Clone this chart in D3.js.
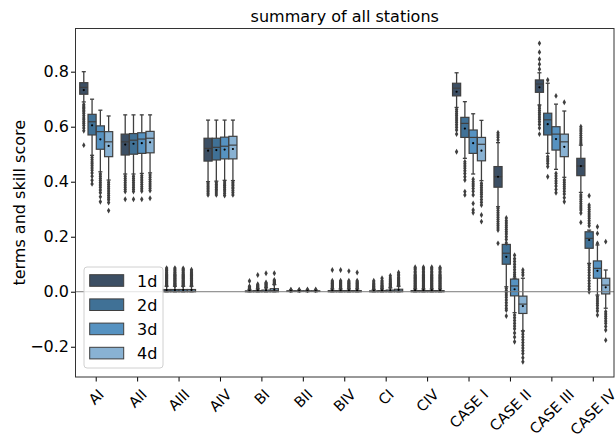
<!DOCTYPE html>
<html>
<head>
<meta charset="utf-8">
<script src="https://cdn.jsdelivr.net/npm/d3@7"></script>
<style>
  body { margin: 0; background: #fff; }
  svg text { font-family: "DejaVu Sans", sans-serif; fill: #000; }
</style>
</head>
<body>
<div class="canvas"></div>
<script>
// categories and hue levels
const categories = ["AI", "AII", "AIII", "AIV", "BI", "BII", "BIV", "CI", "CIV",
  "CASE I", "CASE II", "CASE III", "CASE IV"];
const hues = ["1d", "2d", "3d", "4d"];
const hueColors = ["#3c4f64", "#407196", "#5692c1", "#89b2d3"];
const yTicks = [-0.2, 0, 0.2, 0.4, 0.6, 0.8];

// box statistics, one row per category, one value per hue
const whiskHi = [
  [0.800, 0.700, 0.660, 0.639], [0.643, 0.643, 0.643, 0.643], [0.020, 0.020, 0.020, 0.020],
  [0.624, 0.624, 0.624, 0.624], [0.007, 0.010, 0.014, 0.026], [0.005, 0.005, 0.005, 0.005],
  [0.010, 0.010, 0.010, 0.010], [0.008, 0.010, 0.014, 0.020], [0.010, 0.010, 0.010, 0.010],
  [0.796, 0.691, 0.647, 0.623], [0.542, 0.170, 0.049, 0.049], [0.796, 0.758, 0.682, 0.657],
  [0.533, 0.224, 0.170, 0.079]
];
const q3 = [
  [0.760, 0.645, 0.603, 0.582], [0.573, 0.575, 0.578, 0.583], [0.008, 0.008, 0.008, 0.008],
  [0.558, 0.558, 0.562, 0.565], [0.003, 0.004, 0.006, 0.011], [0.003, 0.003, 0.003, 0.003],
  [0.004, 0.004, 0.004, 0.004], [0.003, 0.004, 0.006, 0.009], [0.004, 0.004, 0.004, 0.004],
  [0.758, 0.634, 0.588, 0.561], [0.455, 0.172, 0.046, -0.016], [0.770, 0.649, 0.600, 0.573],
  [0.485, 0.218, 0.112, 0.049]
];
const medians = [
  [0.743, 0.618, 0.582, 0.545], [0.545, 0.551, 0.555, 0.558], [0.002, 0.002, 0.002, 0.002],
  [0.521, 0.525, 0.529, 0.533], [0.001, 0.001, 0.002, 0.004], [0.002, 0.002, 0.002, 0.002],
  [0.001, 0.001, 0.001, 0.001], [0.001, 0.001, 0.002, 0.003], [0.001, 0.001, 0.001, 0.001],
  [0.740, 0.612, 0.561, 0.536], [0.418, 0.140, 0.021, -0.045], [0.755, 0.625, 0.573, 0.545],
  [0.457, 0.194, 0.085, 0.024]
];
const q1 = [
  [0.718, 0.570, 0.518, 0.491], [0.497, 0.500, 0.503, 0.505], [0, 0, 0, 0],
  [0.475, 0.479, 0.483, 0.483], [0, 0, 0, 0], [0.001, 0.001, 0.001, 0.001],
  [0, 0, 0, 0], [0, 0, 0, 0], [0, 0, 0, 0],
  [0.712, 0.561, 0.503, 0.476], [0.380, 0.100, -0.015, -0.079], [0.725, 0.570, 0.515, 0.491],
  [0.422, 0.158, 0.049, -0.008]
];
const whiskLo = [
  [0.690, 0.496, 0.436, 0.406], [0.428, 0.428, 0.430, 0.432], [0, 0, 0, 0],
  [0.400, 0.402, 0.405, 0.404], [0, 0, 0, 0], [0, 0, 0, 0],
  [0, 0, 0, 0], [0, 0, 0, 0], [0, 0, 0, 0],
  [0.670, 0.485, 0.428, 0.404], [0.309, 0.018, -0.076, -0.142], [0.679, 0.503, 0.445, 0.416],
  [0.361, 0.103, -0.012, -0.060]
];
const means = [
  [0.733, 0.605, 0.554, 0.530], [0.535, 0.538, 0.540, 0.543], [0.006, 0.006, 0.006, 0.006],
  [0.513, 0.515, 0.517, 0.519], [0.003, 0.004, 0.005, 0.008], [0.002, 0.002, 0.002, 0.002],
  [0.004, 0.004, 0.004, 0.004], [0.003, 0.004, 0.005, 0.007], [0.005, 0.005, 0.005, 0.005],
  [0.727, 0.593, 0.540, 0.513], [0.418, 0.127, 0.009, -0.052], [0.743, 0.609, 0.555, 0.527],
  [0.457, 0.188, 0.076, 0.016]
];

// fliers per category / hue
const outliers = [
  [ // AI
    [0.681, 0.675, 0.670, 0.665, 0.660, 0.654, 0.648, 0.640, 0.632, 0.625, 0.618, 0.612, 0.604, 0.595, 0.585, 0.533],
    [0.488, 0.480, 0.472, 0.465, 0.458, 0.450, 0.442, 0.432, 0.420, 0.405, 0.392],
    [0.428, 0.420, 0.412, 0.404, 0.396, 0.388, 0.380, 0.370, 0.360, 0.345, 0.327],
    [0.398, 0.390, 0.382, 0.374, 0.366, 0.358, 0.350, 0.342, 0.334, 0.324, 0.295]
  ],
  [ // AII
    [0.420, 0.412, 0.404, 0.396, 0.388, 0.380, 0.372, 0.364, 0.336],
    [0.420, 0.412, 0.404, 0.396, 0.388, 0.380, 0.372, 0.364, 0.336],
    [0.422, 0.414, 0.406, 0.398, 0.390, 0.382, 0.374, 0.366, 0.336],
    [0.424, 0.416, 0.408, 0.400, 0.392, 0.384, 0.376, 0.368, 0.340]
  ],
  [ // AIII
    [0.022, 0.025, 0.028, 0.031, 0.034, 0.037, 0.040, 0.043, 0.046, 0.049, 0.052, 0.055, 0.058, 0.061, 0.064, 0.068, 0.072, 0.077, 0.082, 0.086],
    [0.022, 0.025, 0.028, 0.031, 0.034, 0.037, 0.040, 0.043, 0.046, 0.049, 0.052, 0.055, 0.058, 0.061, 0.064, 0.068, 0.072, 0.077, 0.082, 0.086],
    [0.022, 0.025, 0.028, 0.031, 0.034, 0.037, 0.040, 0.043, 0.046, 0.049, 0.052, 0.055, 0.058, 0.061, 0.064, 0.068, 0.072, 0.077, 0.081, 0.085],
    [0.022, 0.025, 0.028, 0.031, 0.034, 0.037, 0.040, 0.043, 0.046, 0.049, 0.052, 0.055, 0.058, 0.061, 0.064, 0.067, 0.071, 0.075, 0.080]
  ],
  [ // AIV
    [0.394, 0.388, 0.382, 0.376, 0.370, 0.364, 0.358, 0.352],
    [0.396, 0.390, 0.384, 0.378, 0.372, 0.366, 0.359, 0.352],
    [0.399, 0.392, 0.386, 0.380, 0.373, 0.366, 0.358, 0.350],
    [0.398, 0.392, 0.386, 0.380, 0.374, 0.367, 0.360, 0.352]
  ],
  [ // BI
    [0.008, 0.010, 0.012, 0.014, 0.017, 0.020, 0.039],
    [0.011, 0.013, 0.015, 0.018, 0.021, 0.024, 0.027, 0.061],
    [0.016, 0.019, 0.022, 0.025, 0.028, 0.031, 0.034, 0.067],
    [0.028, 0.031, 0.034, 0.037, 0.040, 0.043, 0.067]
  ],
  [ // BII
    [0.006, 0.007], [0.006, 0.007], [0.006, 0.008], [0.006, 0.008]
  ],
  [ // BIV
    [0.012, 0.015, 0.018, 0.021, 0.024, 0.027, 0.030, 0.033, 0.036, 0.040, 0.079],
    [0.012, 0.015, 0.018, 0.021, 0.024, 0.027, 0.030, 0.033, 0.036, 0.040, 0.079],
    [0.012, 0.015, 0.018, 0.021, 0.024, 0.027, 0.030, 0.033, 0.036, 0.040, 0.075],
    [0.012, 0.015, 0.018, 0.021, 0.024, 0.027, 0.030, 0.033, 0.036, 0.040, 0.070]
  ],
  [ // CI
    [0.010, 0.013, 0.016, 0.019, 0.022, 0.026, 0.030, 0.035, 0.040],
    [0.012, 0.015, 0.018, 0.021, 0.024, 0.028, 0.032, 0.036, 0.041, 0.049],
    [0.016, 0.019, 0.022, 0.025, 0.028, 0.031, 0.035, 0.039, 0.044, 0.050, 0.058],
    [0.022, 0.025, 0.028, 0.031, 0.034, 0.037, 0.040, 0.044, 0.048, 0.052, 0.058, 0.064, 0.070]
  ],
  [ // CIV
    [0.012, 0.015, 0.018, 0.021, 0.024, 0.027, 0.030, 0.033, 0.036, 0.039, 0.042, 0.045, 0.048, 0.051, 0.054, 0.057, 0.060, 0.064, 0.069, 0.074, 0.080, 0.085, 0.089],
    [0.012, 0.015, 0.018, 0.021, 0.024, 0.027, 0.030, 0.033, 0.036, 0.039, 0.042, 0.045, 0.048, 0.051, 0.054, 0.057, 0.060, 0.064, 0.069, 0.074, 0.080, 0.085, 0.089],
    [0.012, 0.015, 0.018, 0.021, 0.024, 0.027, 0.030, 0.033, 0.036, 0.039, 0.042, 0.045, 0.048, 0.051, 0.054, 0.057, 0.060, 0.064, 0.069, 0.074, 0.080, 0.085, 0.089],
    [0.012, 0.015, 0.018, 0.021, 0.024, 0.027, 0.030, 0.033, 0.036, 0.039, 0.042, 0.045, 0.048, 0.051, 0.054, 0.057, 0.060, 0.064, 0.069, 0.074, 0.080, 0.085, 0.088]
  ],
  [ // CASE I
    [0.663, 0.655, 0.647, 0.640, 0.632, 0.624, 0.616, 0.607, 0.598, 0.588, 0.573, 0.509],
    [0.473, 0.465, 0.457, 0.449, 0.440, 0.430, 0.418, 0.406, 0.364, 0.352],
    [0.409, 0.400, 0.392, 0.384, 0.375, 0.365, 0.352, 0.321, 0.297, 0.287],
    [0.394, 0.386, 0.378, 0.370, 0.362, 0.354, 0.345, 0.335, 0.325, 0.315, 0.279, 0.255]
  ],
  [ // CASE II
    [0.578, 0.570, 0.562, 0.552, 0.303, 0.295, 0.287, 0.279, 0.271, 0.263, 0.255, 0.247, 0.240, 0.232, 0.224, 0.176],
    [0.268, 0.258, 0.250, 0.242, 0.234, 0.226, 0.218, 0.210, 0.200, 0.190, 0.177,
     0.012, 0.004, -0.004, -0.012, -0.020, -0.030, -0.040, -0.050, -0.060, -0.067, -0.088],
    [0.133, 0.120, 0.110, 0.100, 0.090, 0.080, 0.070, 0.062, 0.055,
     -0.085, -0.095, -0.105, -0.115, -0.125, -0.135, -0.150, -0.165, -0.182],
    [0.079, 0.070, 0.061,
     -0.145, -0.155, -0.165, -0.175, -0.185, -0.195, -0.205, -0.215, -0.225, -0.240, -0.255]
  ],
  [ // CASE III
    [0.903, 0.871, 0.845, 0.827, 0.809, 0.675, 0.667, 0.659, 0.651, 0.643, 0.635, 0.627, 0.618, 0.608, 0.595, 0.573],
    [0.770, 0.491, 0.483, 0.475, 0.466, 0.455, 0.418],
    [0.712, 0.430, 0.421, 0.412, 0.403, 0.394, 0.384, 0.372, 0.360],
    [0.689, 0.406, 0.398, 0.390, 0.382, 0.374, 0.365, 0.355, 0.342, 0.327]
  ],
  [ // CASE IV
    [0.600, 0.592, 0.584, 0.576, 0.568, 0.560, 0.552, 0.544, 0.538,
     0.352, 0.344, 0.336, 0.328, 0.320, 0.312, 0.304, 0.297, 0.286, 0.252],
    [0.349, 0.315, 0.307, 0.299, 0.291, 0.283, 0.275, 0.267, 0.258, 0.249, 0.240,
     0.097, 0.088, 0.079, 0.070, 0.060, 0.050, 0.040, 0.030, 0.020, 0.010, 0.000],
    [0.236, 0.212, 0.176, -0.018, -0.026, -0.034, -0.042, -0.050, -0.060, -0.070, -0.085],
    [0.182, -0.073, -0.081, -0.089, -0.097, -0.106, -0.115, -0.126, -0.139, -0.176]
  ]
];

const width = 616, height = 439;
const mLeft = 75.5, mRight = 614, mTop = 28.5, mBottom = 377;
const lineColor = "#3f3f3f";

const svg = d3.select(".canvas").append("svg")
  .attr("width", width)
  .attr("height", height);

const x = d3.scaleBand().domain(categories).range([mLeft, mRight]).padding(0);
const xh = d3.scaleBand().domain(hues)
  .range([-0.4 * x.bandwidth(), 0.4 * x.bandwidth()]);
const y = d3.scaleLinear().domain([-0.31, 0.957]).range([mBottom, mTop]);
const color = d3.scaleOrdinal().domain(hues).range(hueColors);

const boxW = xh.bandwidth() * 0.98;
const capW = boxW * 0.5;

// flatten into one record per box
const boxes = [];
categories.forEach((c, i) => {
  hues.forEach((h, j) => {
    boxes.push({
      cat: c, hue: h,
      cx: x(c) + x.bandwidth() / 2 + xh(h) + xh.bandwidth() / 2,
      lo: whiskLo[i][j], q1: q1[i][j], med: medians[i][j], q3: q3[i][j],
      hi: whiskHi[i][j], mean: means[i][j], fliers: outliers[i][j]
    });
  });
});

const plot = svg.append("g");

const g = plot.selectAll("g.box")
  .data(boxes)
  .join("g")
  .attr("class", "box");

// whiskers
g.append("line")
  .attr("x1", d => d.cx).attr("x2", d => d.cx)
  .attr("y1", d => y(d.hi)).attr("y2", d => y(d.q3))
  .attr("stroke", lineColor).attr("stroke-width", 1.3);
g.append("line")
  .attr("x1", d => d.cx).attr("x2", d => d.cx)
  .attr("y1", d => y(d.q1)).attr("y2", d => y(d.lo))
  .attr("stroke", lineColor).attr("stroke-width", 1.3);
// caps
g.append("line")
  .attr("x1", d => d.cx - capW / 2).attr("x2", d => d.cx + capW / 2)
  .attr("y1", d => y(d.hi)).attr("y2", d => y(d.hi))
  .attr("stroke", lineColor).attr("stroke-width", 1.3);
g.append("line")
  .attr("x1", d => d.cx - capW / 2).attr("x2", d => d.cx + capW / 2)
  .attr("y1", d => y(d.lo)).attr("y2", d => y(d.lo))
  .attr("stroke", lineColor).attr("stroke-width", 1.3);

// boxes
g.append("rect")
  .attr("x", d => d.cx - boxW / 2)
  .attr("width", boxW)
  .attr("y", d => y(d.q3))
  .attr("height", d => Math.max(0.5, y(d.q1) - y(d.q3)))
  .attr("fill", d => color(d.hue))
  .attr("stroke", lineColor)
  .attr("stroke-width", 1.2);

// medians
g.append("line")
  .attr("x1", d => d.cx - boxW / 2).attr("x2", d => d.cx + boxW / 2)
  .attr("y1", d => y(d.med)).attr("y2", d => y(d.med))
  .attr("stroke", lineColor).attr("stroke-width", 1.2);

// fliers
g.selectAll("path.flier")
  .data(d => d.fliers.map(v => ({ cx: d.cx, v })))
  .join("path")
  .attr("class", "flier")
  .attr("d", d3.symbol(d3.symbolDiamond, 10))
  .attr("transform", d => `translate(${d.cx},${y(d.v)})`)
  .attr("fill", lineColor);

// means
g.append("circle")
  .attr("cx", d => d.cx)
  .attr("cy", d => y(d.mean))
  .attr("r", 1.1)
  .attr("fill", "#000");

// zero line
svg.append("line")
  .attr("x1", mLeft).attr("x2", mRight)
  .attr("y1", y(0)).attr("y2", y(0))
  .attr("stroke", "#7a7a7a")
  .attr("stroke-width", 1);

// axes
const yAxis = svg.append("g")
  .attr("transform", `translate(${mLeft},0)`)
  .call(d3.axisLeft(y).tickValues(yTicks).tickFormat(d3.format(".1f"))
    .tickSize(4.5).tickPadding(2));
yAxis.select(".domain").remove();
yAxis.selectAll("text").style("font-size", "16px");

const xAxis = svg.append("g")
  .attr("transform", `translate(0,${mBottom})`)
  .call(d3.axisBottom(x).tickSize(4.5).tickFormat(""));
xAxis.select(".domain").remove();

// rotated x tick labels, bbox centred on tick
const xFont = 14.5;
const xl = svg.append("g");
categories.forEach(c => {
  const t = xl.append("text")
    .style("font-size", xFont + "px")
    .attr("text-anchor", "middle")
    .attr("dominant-baseline", "central")
    .text(c);
  const w = t.node().getComputedTextLength();
  const bh = (w + xFont * 1.16) * Math.SQRT1_2;
  const cx = x(c) + x.bandwidth() / 2;
  const cy = mBottom + 4.5 + 4.5 + bh / 2;
  t.attr("transform", `translate(${cx},${cy}) rotate(-45)`);
});

// frame
svg.append("rect")
  .attr("x", mLeft).attr("y", mTop)
  .attr("width", mRight - mLeft).attr("height", mBottom - mTop)
  .attr("fill", "none")
  .attr("stroke", "#333")
  .attr("stroke-width", 1);

// title and y label
svg.append("text")
  .attr("x", (mLeft + mRight) / 2).attr("y", 22)
  .attr("text-anchor", "middle")
  .style("font-size", "16px")
  .text("summary of all stations");

svg.append("text")
  .attr("transform", `translate(25,${(mTop + mBottom) / 2}) rotate(-90)`)
  .attr("text-anchor", "middle")
  .style("font-size", "16px")
  .text("terms and skill score");

// legend
const legend = svg.append("g").attr("transform", "translate(84,267)");
legend.append("rect")
  .attr("width", 79).attr("height", 101)
  .attr("rx", 3)
  .attr("fill", "#fff").attr("fill-opacity", 0.8)
  .attr("stroke", "#d0d0d0");
hues.forEach((h, i) => {
  const row = legend.append("g").attr("transform", `translate(0,${13.5 + i * 24.2})`);
  row.append("rect")
    .attr("x", 5.7).attr("y", -5.8)
    .attr("width", 34).attr("height", 11.6)
    .attr("fill", color(h))
    .attr("stroke", lineColor)
    .attr("stroke-width", 1);
  row.append("text")
    .attr("x", 53).attr("y", 6)
    .style("font-size", "16px")
    .text(h);
});
</script>
</body>
</html>
